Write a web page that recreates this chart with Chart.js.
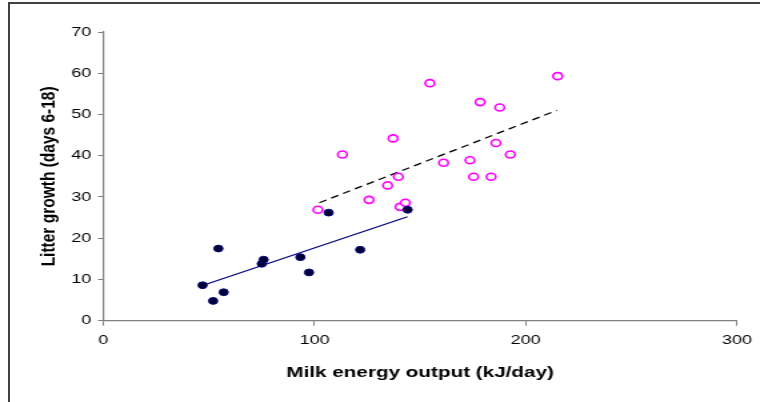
<!DOCTYPE html>
<html>
<head>
<meta charset="utf-8">
<script src="https://cdn.jsdelivr.net/npm/chart.js@4"></script>
<style>
  html, body { margin: 0; padding: 0; background: #fff; overflow: hidden; }
  #frame { position: absolute; left: 8px; top: 2px; width: 800px; height: 450px;
           border-left: 2px solid #404040; border-top: 2px solid #404040; }
  #wrap { position: absolute; left: 0; top: 0; width: 570px; height: 402px;
          transform: scaleX(1.3333); transform-origin: 0 0; }
</style>
</head>
<body>
<div id="frame"></div>
<div id="wrap"><canvas id="chart"></canvas></div>
<script>
// Filled points (navy)
const navyX = [47.0, 52.0, 57.0, 54.5, 75.0, 75.9, 93.3, 97.4, 106.7, 121.6, 144.1];
const navyY = [8.6, 4.8, 6.9, 17.5, 13.8, 14.8, 15.4, 11.7, 26.2, 17.2, 26.9];

// Open points (magenta)
const magX = [154.6, 215.1, 178.4, 187.7, 137.2, 185.9, 192.7, 161.1, 173.6, 139.7, 175.3, 183.6, 134.6, 113.2, 101.6, 125.8, 140.5, 143.0];
const magY = [57.6, 59.3, 53.0, 51.7, 44.2, 43.1, 40.3, 38.3, 38.9, 34.9, 34.9, 34.9, 32.8, 40.3, 26.9, 29.3, 27.6, 28.6];

// Trend line end points
const navyFitX = [47.3, 144.0];
const navyFitY = [8.6, 25.2];
const magFitX = [102.3, 214.7];
const magFitY = [28.6, 51.0];

const xTicks = [0, 100, 200, 300];
const yTicks = [0, 10, 20, 30, 40, 50, 60, 70];

const toPts = (xs, ys) => xs.map((x, i) => ({ x, y: ys[i] }));

const axisColor = "#7f7f7f";
const tickFont = { family: "'Liberation Sans', Arial, sans-serif", size: 13.5 };
const titleFont = { family: "'Liberation Sans', Arial, sans-serif", size: 15.5, weight: "bold" };

new Chart(document.getElementById("chart"), {
    type: "scatter",
    data: {
        datasets: [
            { type: "line", data: toPts(navyFitX, navyFitY), borderColor: "#000080", borderWidth: 1.3,
              pointRadius: 0, fill: false, order: 3 },
            { type: "line", data: toPts(magFitX, magFitY), borderColor: "#000000", borderWidth: 1.3,
              borderDash: [6, 4], pointRadius: 0, fill: false, order: 3 },
            { data: toPts(navyX, navyY), backgroundColor: "#000033", borderColor: "#000080",
              borderWidth: 1, pointRadius: 3.4, order: 1 },
            { data: toPts(magX, magY), backgroundColor: "#ffffff", borderColor: "#ff00ff",
              borderWidth: 1.6, pointRadius: 3.5, order: 2 }
        ]
    },
    options: {
        responsive: true,
        maintainAspectRatio: false,
        animation: false,
        layout: { padding: { left: 0, right: 14, top: 32, bottom: 0 } },
        plugins: { legend: { display: false }, tooltip: { enabled: false } },
        scales: {
            x: {
                type: "linear", min: 0, max: 300,
                afterFit: s => { s.height = 81.3; },
                afterBuildTicks: s => { s.ticks = xTicks.map(v => ({ value: v })); },
                grid: { drawOnChartArea: false, drawTicks: true, tickLength: 5, color: axisColor },
                border: { color: axisColor, width: 1.2 },
                ticks: { color: "#000", font: tickFont, padding: 6, maxRotation: 0 },
                title: { display: true, text: "Milk energy output (kJ/day)", color: "#000",
                         font: titleFont, padding: { top: 0, bottom: 20 } }
            },
            y: {
                type: "linear", min: 0, max: 70,
                afterFit: s => { s.width = 77.5; },
                afterBuildTicks: s => { s.ticks = yTicks.map(v => ({ value: v })); },
                grid: { drawOnChartArea: false, drawTicks: true, tickLength: 4, color: axisColor },
                border: { color: axisColor, width: 1.2 },
                ticks: { color: "#000", font: tickFont, padding: 5 },
                title: { display: true, text: "Litter growth (days 6-18)", color: "#000",
                         font: titleFont, padding: { top: 27, bottom: 0 } }
            }
        }
    }
});
</script>
</body>
</html>
